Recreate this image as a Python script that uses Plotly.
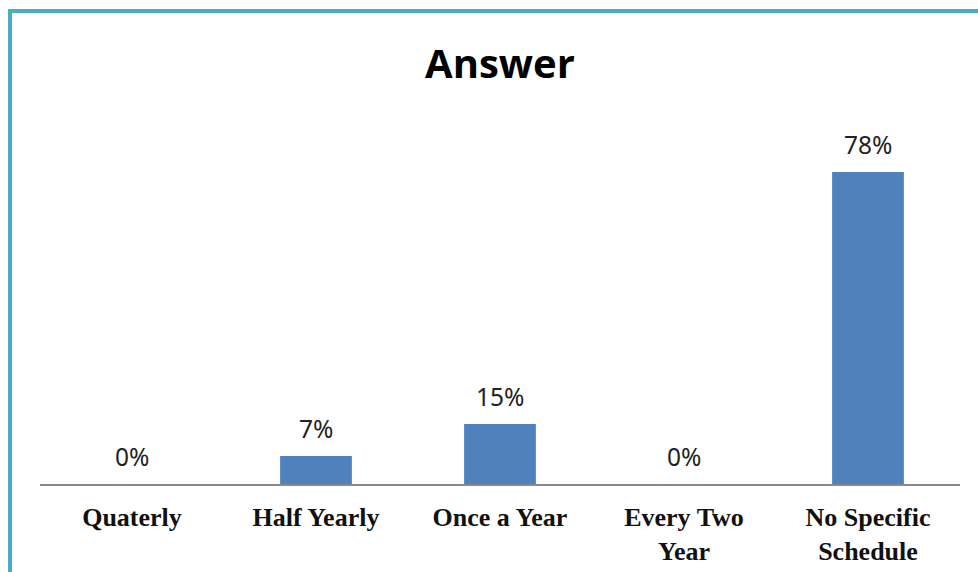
import plotly.graph_objects as go

categories = ["Quaterly", "Half Yearly", "Once a Year", "Every Two Year", "No Specific Schedule"]
tick_labels = ["Quaterly", "Half Yearly", "Once a Year", "Every Two<br>Year", "No Specific<br>Schedule"]
values = [0, 7, 15, 0, 78]
value_labels = ["0%", "7%", "15%", "0%", "78%"]

W, H = 978, 572
ML, MR, MT, MB = 40, 18, 124, 88
plot_w = W - ML - MR
plot_h = H - MT - MB

fig = go.Figure()
fig.add_trace(go.Bar(
    x=categories, y=values, width=0.39,
    marker=dict(color="#4F81BD", line=dict(width=0)),
    hoverinfo="skip",
))

for c, v, t in zip(categories, values, value_labels):
    fig.add_annotation(x=c, y=v, text=t, showarrow=False, yshift=28,
                       font=dict(family="Noto Sans, Open Sans, sans-serif", size=24.5, color="#222222"))

# chart frame (left and top edges)
def px_x(p):
    return (p - ML) / plot_w

def px_y(p):
    return (H - MB - p) / plot_h

border = dict(color="#4BACC6", width=4)
fig.add_shape(type="line", xref="paper", yref="paper",
              x0=px_x(10), x1=px_x(W + 5), y0=px_y(11), y1=px_y(11), line=border)
fig.add_shape(type="line", xref="paper", yref="paper",
              x0=px_x(10), x1=px_x(10), y0=px_y(9), y1=px_y(H + 5), line=border)

fig.update_layout(
    width=W, height=H,
    margin=dict(l=ML, r=MR, t=MT, b=MB, autoexpand=False),
    paper_bgcolor="white", plot_bgcolor="white",
    showlegend=False,
    title=dict(text="<b>Answer</b>", xref="paper", x=px_x(500), xanchor="center",
               yref="container", y=(H - 64) / H, yanchor="middle",
               font=dict(family="Open Sans, Noto Sans, sans-serif", size=40, color="#000000")),
    xaxis=dict(
        tickmode="array", tickvals=categories, ticktext=tick_labels,
        showline=True, linecolor="#888888", linewidth=2, ticks="",
        tickfont=dict(family="Liberation Serif, Times New Roman, serif", size=26, color="#111111", weight="bold"),
        ticklabelstandoff=9, automargin=False,
    ),
    yaxis=dict(range=[0, 90], visible=False, automargin=False),
)

fig.write_html("out.html")
